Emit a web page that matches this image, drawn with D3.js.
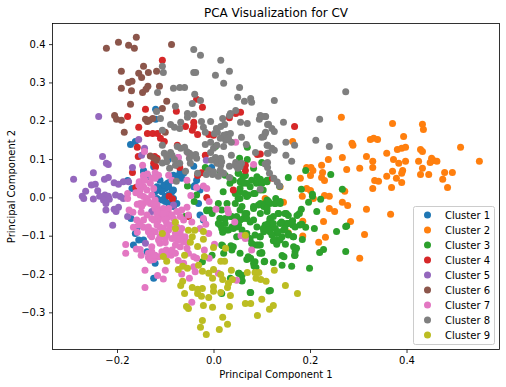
<!DOCTYPE html>
<html>
<head>
<meta charset="utf-8">
<title>PCA Visualization for CV</title>
<script src="https://cdn.jsdelivr.net/npm/d3@7.9.0/dist/d3.min.js"></script>
<style>
  html, body { margin: 0; padding: 0; background: #fff; }
  svg { display: block; font-family: "DejaVu Sans", sans-serif; }
  text { fill: #000; }
</style>
</head>
<body>
<div id="chart"></div>
<script>
// points, one list per cluster: [pc1, pc2]
const cluster1 = [[-0.120,0.230],[-0.120,0.204],[-0.172,0.138],[-0.162,0.146],[-0.145,0.070],[-0.124,0.080],[-0.094,0.099],[-0.041,0.081],[-0.004,0.078],[-0.039,0.031],[-0.062,0.063],[-0.178,0.044],[-0.095,0.037],[-0.104,0.029],[-0.081,0.050],[-0.073,0.057],[-0.100,0.023],[-0.102,0.032],[-0.093,0.038],[-0.083,0.019],[-0.100,0.002],[-0.093,-0.016],[-0.083,-0.024],[-0.028,-0.046],[-0.021,-0.059],[-0.171,-0.055],[-0.162,-0.094],[-0.155,-0.111],[-0.166,-0.124],[-0.138,-0.142],[-0.121,-0.172],[-0.124,-0.211],[-0.028,0.019],[-0.041,0.028],[-0.031,-0.016],[-0.083,0.058],[-0.117,0.028],[-0.145,0.067],[-0.135,0.054],[-0.145,-0.111],[-0.158,-0.078],[-0.111,0.045],[-0.100,-0.011],[-0.069,0.067],[-0.169,0.023],[-0.114,0.019],[-0.107,0.015],[-0.093,0.028],[-0.086,0.015],[-0.121,0.015],[-0.117,-0.003],[-0.107,-0.007],[-0.093,0.006],[-0.083,-0.003],[-0.076,-0.016],[-0.066,0.050],[-0.086,0.045],[-0.035,0.045]];
const cluster2 = [[0.265,0.209],[0.371,0.193],[0.433,0.191],[0.435,0.177],[0.394,0.159],[0.287,0.141],[0.289,0.136],[0.325,0.151],[0.332,0.154],[0.340,0.151],[0.164,0.146],[0.512,0.131],[0.381,0.125],[0.390,0.128],[0.398,0.131],[0.429,0.125],[0.433,0.120],[0.359,0.115],[0.267,0.104],[0.317,0.107],[0.238,0.099],[0.373,0.099],[0.384,0.089],[0.330,0.094],[0.330,0.078],[0.398,0.094],[0.425,0.094],[0.452,0.102],[0.449,0.091],[0.456,0.096],[0.463,0.094],[0.551,0.094],[0.224,0.084],[0.193,0.078],[0.202,0.078],[0.206,0.070],[0.201,0.057],[0.226,0.065],[0.276,0.073],[0.303,0.076],[0.371,0.068],[0.392,0.070],[0.390,0.063],[0.433,0.076],[0.429,0.060],[0.446,0.060],[0.479,0.065],[0.495,0.065],[0.180,0.050],[0.224,0.052],[0.230,0.044],[0.334,0.044],[0.342,0.042],[0.359,0.055],[0.379,0.050],[0.390,0.039],[0.475,0.047],[0.330,0.023],[0.369,0.026],[0.485,0.026],[0.193,0.023],[0.201,0.018],[0.272,0.016],[0.230,0.005],[0.240,0.003],[0.184,0.003],[0.207,-0.003],[0.267,-0.013],[0.278,-0.021],[0.240,-0.029],[0.251,-0.037],[0.317,-0.031],[0.367,-0.044],[0.228,-0.063],[0.284,-0.063],[0.185,-0.062],[0.232,-0.104],[0.313,-0.097],[0.218,-0.117],[0.185,-0.101],[0.303,-0.159],[0.155,-0.092],[0.145,-0.013],[0.107,-0.003],[0.138,0.028]];
const cluster3 = [[-0.054,0.030],[-0.035,0.006],[-0.040,-0.011],[-0.014,-0.035],[-0.003,-0.042],[0.014,-0.055],[0.024,-0.068],[0.014,-0.072],[0.019,-0.091],[0.031,-0.085],[0.041,-0.081],[0.052,-0.072],[0.059,-0.085],[0.048,-0.103],[0.069,-0.094],[0.076,-0.107],[0.083,-0.124],[0.093,-0.124],[0.100,-0.146],[0.073,-0.159],[0.083,-0.172],[0.088,-0.183],[0.105,-0.168],[0.053,-0.198],[0.059,-0.218],[0.077,-0.248],[0.115,-0.244],[0.019,-0.126],[0.036,-0.126],[0.038,-0.137],[0.021,-0.146],[-0.003,-0.151],[-0.023,-0.168],[0.035,-0.211],[0.017,-0.251],[-0.059,-0.050],[0.014,0.067],[0.024,0.058],[0.035,0.050],[0.055,0.041],[0.062,0.054],[0.069,0.037],[0.079,0.045],[0.090,0.054],[0.100,0.037],[0.111,0.045],[0.055,0.023],[0.055,-0.003],[0.069,0.002],[0.083,0.010],[0.097,0.019],[0.055,-0.033],[0.069,-0.042],[0.083,-0.029],[0.097,-0.042],[0.111,-0.037],[0.045,-0.016],[0.059,-0.024],[0.017,-0.033],[0.028,-0.016],[0.048,-0.050],[0.062,-0.055],[0.076,-0.064],[0.090,-0.077],[0.107,-0.072],[0.114,-0.081],[0.035,-0.050],[0.055,-0.059],[0.111,-0.007],[0.117,-0.055],[0.004,0.133],[0.070,0.131],[0.054,0.102],[0.070,0.099],[0.083,0.076],[0.100,0.091],[0.052,0.063],[0.066,0.057],[-0.017,0.078],[0.191,0.070],[0.243,0.060],[0.155,0.052],[0.182,0.021],[0.205,0.008],[0.205,0.003],[0.222,-0.005],[0.267,0.021],[0.197,-0.013],[0.137,0.029],[0.097,0.047],[0.100,0.037],[0.111,0.041],[0.129,-0.003],[0.107,-0.016],[0.117,-0.016],[0.128,-0.016],[0.138,-0.016],[0.097,-0.016],[0.104,-0.024],[0.111,-0.029],[0.182,-0.031],[0.178,-0.042],[0.173,-0.047],[0.214,-0.037],[0.135,-0.042],[0.151,-0.042],[0.155,-0.047],[0.124,-0.050],[0.117,-0.059],[0.114,-0.068],[0.107,-0.077],[0.121,-0.077],[0.128,-0.081],[0.138,-0.068],[0.145,-0.068],[0.155,-0.068],[0.164,-0.061],[0.164,-0.072],[0.183,-0.070],[0.191,-0.078],[0.209,-0.081],[0.255,-0.089],[0.274,-0.076],[0.276,-0.075],[0.104,-0.090],[0.117,-0.090],[0.131,-0.094],[0.145,-0.085],[0.155,-0.094],[0.142,-0.103],[0.135,-0.111],[0.166,-0.103],[0.184,-0.110],[0.124,-0.113],[0.131,-0.122],[0.149,-0.122],[0.166,-0.129],[0.228,-0.136],[0.220,-0.144],[0.274,-0.141],[0.169,-0.142],[0.168,-0.152],[0.142,-0.152],[0.146,-0.155],[0.100,-0.144],[0.106,-0.167],[0.124,-0.170],[0.142,-0.177],[0.162,-0.180],[0.199,-0.185],[0.097,-0.124],[0.097,-0.103],[0.069,-0.162],[0.077,-0.159],[0.086,-0.168],[0.084,-0.179],[0.052,-0.198],[0.059,-0.203],[0.059,-0.217],[0.076,-0.248],[0.118,-0.243],[0.062,0.037],[0.058,0.045],[0.076,0.028],[0.089,0.037],[0.100,0.041],[0.055,0.015],[0.065,0.010],[0.051,-0.003],[0.072,0.006],[0.086,0.010],[0.103,0.019],[0.114,-0.011],[0.127,-0.016],[0.138,-0.011],[0.083,-0.024],[0.093,-0.020],[0.065,-0.042],[0.038,-0.050],[0.024,-0.055],[0.013,-0.055],[0.010,-0.068],[0.017,-0.081],[0.027,-0.085],[0.038,-0.077],[0.048,-0.077],[0.069,-0.055],[0.083,-0.059],[0.124,-0.068],[0.110,-0.072],[0.103,-0.081],[0.114,-0.085],[0.121,-0.098],[0.134,-0.090],[0.127,-0.111],[0.138,-0.111],[0.148,-0.042],[0.134,-0.042],[0.152,-0.068],[0.148,-0.081],[0.162,-0.064],[0.169,-0.077],[0.179,-0.072],[0.141,-0.064],[0.155,-0.098],[0.165,-0.103],[0.172,-0.133],[0.169,-0.151],[0.096,-0.103],[0.086,-0.098],[0.089,-0.124],[0.079,-0.120],[0.096,-0.146],[0.072,-0.155],[0.055,-0.146],[0.041,-0.129],[0.017,-0.124],[-0.007,-0.033],[-0.014,-0.033],[0.010,-0.016],[0.020,0.015],[0.034,0.037],[0.045,0.010],[0.051,0.063],[0.041,0.045]];
const cluster4 = [[-0.106,0.358],[-0.077,0.225],[-0.035,0.256],[-0.023,0.235],[-0.141,0.230],[-0.178,0.211],[-0.155,0.183],[-0.137,0.167],[-0.126,0.167],[-0.116,0.167],[-0.110,0.154],[-0.102,0.146],[-0.158,0.131],[-0.156,0.107],[-0.122,0.107],[-0.117,0.102],[-0.075,0.136],[-0.058,0.185],[-0.041,0.196],[-0.044,0.175],[-0.033,0.164],[-0.010,0.164],[0,0.162],[0.033,0.208],[0.046,0.219],[0.056,0.222],[-0.017,0.110],[-0.075,0.084],[-0.070,0.078],[-0.168,0.065],[-0.025,0.064],[-0.033,0.057],[0.066,0.084],[0.066,0.070],[0.091,0.112],[-0.041,0.185],[-0.120,0.080],[-0.124,0.089],[-0.014,0],[0.041,0.019],[-0.092,0.003],[-0.085,-0.004],[-0.161,0.026],[-0.052,-0.05],[0.168,0.185],[0.122,0.050],[0.097,0.113]];
const cluster5 = [[-0.238,0.211],[-0.155,0.151],[-0.143,0.128],[-0.149,0.110],[-0.230,0.107],[-0.222,0.089],[-0.218,0.086],[-0.168,0.078],[-0.015,0.097],[-0.073,0.104],[-0.249,0.064],[-0.290,0.047],[-0.226,0.047],[-0.218,0.052],[-0.253,0.032],[-0.245,0.034],[-0.206,0.038],[-0.197,0.034],[-0.187,0.041],[-0.176,0.041],[-0.265,0.016],[-0.240,0.017],[-0.272,0.003],[-0.269,-0.003],[-0.249,-0.004],[-0.236,0.003],[-0.225,0.006],[-0.218,0.003],[-0.228,-0.007],[-0.216,-0.005],[-0.223,-0.016],[-0.203,0.006],[-0.193,0.002],[-0.187,-0.003],[-0.206,-0.031],[-0.197,-0.026],[-0.202,-0.037],[-0.223,-0.033],[-0.209,-0.073],[-0.178,-0.050],[-0.141,-0.120],[-0.083,-0.020],[-0.128,-0.037]];
const cluster6 = [[-0.222,0.389],[-0.197,0.405],[-0.176,0.397],[-0.164,0.389],[-0.160,0.418],[-0.087,0.399],[-0.191,0.329],[-0.145,0.342],[-0.155,0.324],[-0.149,0.313],[-0.135,0.326],[-0.118,0.329],[-0.176,0.300],[-0.169,0.303],[-0.191,0.285],[-0.170,0.278],[-0.147,0.274],[-0.140,0.282],[-0.136,0.290],[-0.112,0.290],[-0.172,0.243],[-0.097,0.251],[-0.106,0.232],[-0.205,0.214],[-0.201,0.204],[-0.191,0.201],[-0.185,0.170],[-0.141,0.204],[-0.133,0.201],[-0.126,0.206],[-0.137,0.198],[-0.100,0.170],[-0.131,0.108],[-0.124,0.103],[-0.117,0.097]];
const cluster7 = [[-0.178,0.010],[-0.178,-0.003],[-0.161,0.012],[-0.154,0.041],[-0.145,0.054],[-0.137,0.061],[-0.121,0.064],[-0.114,0.058],[-0.131,0.037],[-0.145,0.028],[-0.138,0.019],[-0.124,0.023],[-0.152,0.019],[-0.128,0.006],[-0.138,-0.003],[-0.145,-0.016],[-0.158,-0.018],[-0.131,-0.016],[-0.121,-0.007],[-0.093,0.058],[-0.086,0.045],[-0.055,0.045],[-0.035,0.026],[-0.021,0.030],[-0.014,0.023],[-0.047,0.005],[-0.009,-0.011],[0.005,-0.031],[0.029,-0.031],[0.031,-0.040],[0.044,-0.064],[-0.175,-0.033],[-0.167,-0.039],[-0.150,-0.039],[-0.159,-0.059],[-0.152,-0.068],[-0.166,-0.078],[-0.158,-0.091],[-0.145,-0.078],[-0.135,-0.077],[-0.128,-0.087],[-0.128,-0.103],[-0.111,-0.033],[-0.100,-0.033],[-0.117,-0.042],[-0.107,-0.050],[-0.093,-0.042],[-0.076,-0.037],[-0.066,-0.033],[-0.055,-0.026],[-0.069,-0.050],[-0.083,-0.055],[-0.114,-0.059],[-0.097,-0.068],[-0.117,-0.072],[-0.104,-0.081],[-0.093,-0.085],[-0.111,-0.103],[-0.100,-0.107],[-0.111,-0.120],[-0.079,-0.094],[-0.069,-0.094],[-0.059,-0.103],[-0.073,-0.111],[-0.079,-0.124],[-0.069,-0.129],[-0.055,-0.133],[-0.052,-0.146],[-0.041,-0.155],[-0.035,-0.159],[-0.062,-0.059],[-0.052,-0.046],[-0.045,-0.064],[-0.016,-0.070],[-0.010,-0.094],[-0.021,-0.055],[0.002,-0.122],[-0.182,-0.123],[-0.182,-0.146],[-0.160,-0.135],[-0.152,-0.136],[-0.150,-0.151],[-0.135,-0.146],[-0.128,-0.142],[-0.135,-0.157],[-0.124,-0.162],[-0.114,-0.155],[-0.107,-0.142],[-0.098,-0.137],[-0.097,-0.151],[-0.088,-0.151],[-0.073,-0.165],[-0.062,-0.172],[-0.041,-0.181],[-0.066,-0.200],[-0.050,-0.211],[-0.038,-0.194],[-0.009,-0.159],[-0.019,-0.137],[0.010,-0.198],[-0.142,-0.190],[-0.116,-0.204],[-0.100,-0.190],[-0.104,-0.213],[-0.142,-0.235],[-0.045,-0.274],[0.048,-0.216],[0.057,-0.100],[0.066,-0.107],[0.079,-0.137],[-0.128,-0.129],[-0.086,-0.107],[-0.117,-0.020],[-0.028,-0.081],[-0.143,0.120],[-0.147,0.084],[0.046,0.144],[0.083,0.086],[-0.052,0.115],[-0.073,0.104],[-0.145,0.058],[-0.121,-0.029],[-0.114,-0.037],[-0.104,-0.029],[-0.093,-0.029],[-0.104,-0.042],[-0.117,-0.055],[-0.124,-0.059],[-0.097,-0.055],[-0.086,-0.046],[-0.100,-0.059],[-0.090,-0.072],[-0.111,-0.077],[-0.121,-0.090],[-0.097,-0.098],[-0.107,-0.090],[-0.114,-0.111],[-0.100,-0.118],[-0.079,-0.107],[-0.069,-0.107],[-0.062,-0.116],[-0.055,-0.116],[-0.076,-0.077],[-0.066,-0.081],[-0.155,0.032],[-0.149,0.041],[-0.142,0.045],[-0.128,0.050],[-0.121,0.050],[-0.152,0.006],[-0.145,0.002],[-0.135,-0.011],[-0.124,-0.020],[-0.149,-0.024],[-0.152,-0.016],[-0.138,-0.046],[-0.128,-0.055],[-0.145,-0.059],[-0.155,-0.072],[-0.135,-0.090],[-0.131,-0.098],[-0.121,-0.151],[-0.131,-0.164],[-0.124,-0.151],[-0.104,-0.146],[-0.093,-0.144],[-0.079,-0.146],[-0.086,-0.137]];
const cluster8 = [[-0.041,0.386],[-0.027,0.371],[0.015,0.358],[0.004,0.319],[0.033,0.329],[0.021,0.298],[-0.041,0.326],[-0.037,0.326],[-0.106,0.342],[-0.104,0.326],[-0.116,0.274],[-0.083,0.285],[-0.070,0.287],[-0.060,0.287],[-0.039,0.269],[-0.027,0.253],[-0.044,0.245],[0.050,0.261],[0.054,0.287],[0.064,0.251],[0.077,0.258],[0.079,0.248],[-0.079,0.238],[-0.054,0.219],[-0.041,0.217],[-0.054,0.209],[-0.118,0.224],[-0.110,0.206],[-0.089,0.190],[-0.081,0.183],[-0.068,0.196],[-0.070,0.180],[-0.025,0.198],[-0.021,0.183],[-0.017,0.170],[-0.006,0.198],[0.019,0.206],[0.035,0.219],[0.046,0.227],[0.033,0.214],[0.056,0.196],[0.070,0.193],[0.095,0.204],[0.097,0.214],[0.108,0.211],[0.112,0.190],[0.104,0.158],[0.108,0.170],[0.112,0.136],[0.006,0.180],[0.015,0.185],[0.023,0.190],[0.002,0.167],[0.008,0.170],[-0.006,0.144],[-0.017,0.138],[0.027,0.164],[0.035,0.167],[0.025,0.149],[0.037,0.144],[0.021,0.133],[0.058,0.157],[0.068,0.138],[0.087,0.117],[0.112,0.115],[-0.106,0.175],[-0.106,0.136],[-0.075,0.133],[-0.068,0.128],[-0.060,0.131],[-0.102,0.115],[-0.089,0.117],[-0.081,0.099],[-0.106,0.090],[-0.091,0.076],[-0.079,0.084],[-0.070,0.089],[-0.050,0.115],[-0.037,0.112],[-0.048,0.089],[-0.035,0.102],[-0.050,0.102],[-0.006,0.117],[0.004,0.104],[0.015,0.102],[0.015,0.084],[-0.004,0.097],[0.037,0.110],[0.033,0.081],[0.046,0.091],[0.050,0.076],[0.058,0.089],[0.048,0.084],[0.112,0.091],[-0.033,0.063],[-0.015,0.060],[-0.002,0.060],[0.010,0.055],[0.021,0.063],[0.033,0.052],[-0.058,0.068],[-0.077,0.042],[0,0.128],[0.274,0.276],[0.126,0.253],[0.100,0.211],[0.107,0.211],[0.145,0.196],[0.220,0.204],[0.114,0.191],[0.121,0.180],[0.126,0.172],[0.107,0.167],[0.100,0.157],[0.212,0.149],[0.150,0.144],[0.168,0.136],[0.240,0.133],[0.111,0.136],[0.121,0.128],[0.126,0.123],[0.113,0.115],[0.150,0.110],[0.162,0.094],[0.107,0.087],[0.112,0.078],[0.116,0.063],[0.125,0.050],[0.132,0.040],[0.137,0.030],[0.097,0.021],[-0.097,0.106],[-0.055,0.119],[-0.044,0.110],[0.007,0.089],[0.017,0.093],[-0.010,0.071],[0,0.067],[0.014,0.071],[0.021,0.162],[0.031,0.154],[0.014,0.154],[0.007,0.136],[0.045,0.084],[0.055,0.080],[-0.086,0.110],[-0.097,0.093]];
const cluster9 = [[-0.079,-0.065],[-0.079,-0.081],[-0.106,-0.094],[-0.052,-0.086],[-0.039,-0.086],[-0.021,-0.089],[-0.044,-0.103],[-0.048,-0.117],[-0.021,-0.109],[-0.033,-0.128],[0,-0.131],[0.025,-0.133],[-0.104,-0.154],[-0.097,-0.167],[-0.060,-0.151],[-0.019,-0.154],[0.015,-0.167],[0.023,-0.167],[-0.031,-0.177],[-0.073,-0.188],[-0.064,-0.180],[-0.054,-0.185],[-0.023,-0.193],[0,-0.188],[-0.010,-0.198],[-0.002,-0.211],[0.015,-0.201],[0.019,-0.214],[0.037,-0.190],[0.039,-0.214],[0.031,-0.224],[0.029,-0.235],[-0.064,-0.219],[-0.068,-0.230],[-0.060,-0.251],[-0.044,-0.235],[-0.033,-0.240],[-0.023,-0.238],[-0.033,-0.251],[-0.025,-0.258],[0,-0.233],[0,-0.245],[0.015,-0.248],[-0.010,-0.261],[0.035,-0.256],[-0.021,-0.282],[-0.002,-0.287],[0.033,-0.285],[-0.056,-0.285],[-0.052,-0.290],[0.066,-0.277],[0.077,-0.277],[0.091,-0.308],[0.100,-0.266],[0.019,-0.313],[-0.023,-0.321],[-0.027,-0.339],[0.029,-0.331],[0.012,-0.345],[-0.015,-0.358],[0.066,-0.099],[0.086,-0.196],[0.094,-0.196],[0.088,-0.211],[0.098,-0.214],[0.109,-0.219],[0.070,-0.196],[0.116,-0.292],[0.126,-0.190],[0.149,-0.230],[0.174,-0.251],[0.124,-0.282]];

const clusters = [cluster1, cluster2, cluster3, cluster4, cluster5, cluster6, cluster7, cluster8, cluster9];
const clusterNames = clusters.map((_, i) => `Cluster ${i + 1}`);
const colors = ['#1f77b4', '#ff7f0e', '#2ca02c', '#d62728', '#9467bd', '#8c564b', '#e377c2', '#7f7f7f', '#bcbd22'];

const xTicks = [-0.2, 0, 0.2, 0.4];
const yTicks = [-0.3, -0.2, -0.1, 0, 0.1, 0.2, 0.3, 0.4];

const width = 506;
const height = 387;
const margin = { top: 23.5, right: 6.5, bottom: 37.5, left: 52.5 };

const svg = d3.select('#chart').append('svg')
  .attr('width', width)
  .attr('height', height);

const xScale = d3.scaleLinear()
  .domain([-0.3337, 0.5927])
  .range([margin.left, width - margin.right]);

const yScale = d3.scaleLinear()
  .domain([-0.397, 0.4538])
  .range([height - margin.bottom, margin.top]);

const dots = svg.append('g').attr('class', 'dots');
clusters.forEach((points, i) => {
  dots.append('g')
    .selectAll('circle')
    .data(points)
    .join('circle')
    .attr('cx', d => xScale(d[0]))
    .attr('cy', d => yScale(d[1]))
    .attr('r', 3.5)
    .attr('fill', colors[i]);
});

const xAxis = d3.axisBottom(xScale).tickValues(xTicks).tickFormat(d3.format('.1f')).tickSize(3.5).tickPadding(3.5);
const yAxis = d3.axisLeft(yScale).tickValues(yTicks).tickFormat(d3.format('.1f')).tickSize(3.5).tickPadding(3.5);

svg.append('g')
  .attr('transform', `translate(0, ${height - margin.bottom})`)
  .call(xAxis);
svg.append('g')
  .attr('transform', `translate(${margin.left}, 0)`)
  .call(yAxis);

svg.selectAll('.domain').remove();
svg.selectAll('.tick line').attr('stroke', '#000').attr('stroke-width', 0.8);
svg.selectAll('.tick text').attr('font-size', 10).attr('font-family', '"DejaVu Sans", sans-serif');

svg.append('rect')
  .attr('x', margin.left)
  .attr('y', margin.top)
  .attr('width', width - margin.left - margin.right)
  .attr('height', height - margin.top - margin.bottom)
  .attr('fill', 'none')
  .attr('stroke', '#000')
  .attr('stroke-width', 0.8);

svg.append('text')
  .attr('x', (margin.left + width - margin.right) / 2)
  .attr('y', 17)
  .attr('text-anchor', 'middle')
  .attr('font-size', 12)
  .text('PCA Visualization for CV');

svg.append('text')
  .attr('x', (margin.left + width - margin.right) / 2)
  .attr('y', 377.5)
  .attr('text-anchor', 'middle')
  .attr('font-size', 10)
  .text('Principal Component 1');

svg.append('text')
  .attr('transform', `translate(14.5, ${(margin.top + height - margin.bottom) / 2}) rotate(-90)`)
  .attr('text-anchor', 'middle')
  .attr('font-size', 10)
  .text('Principal Component 2');

const legend = svg.append('g').attr('transform', 'translate(413.5, 206.5)');
legend.append('rect')
  .attr('width', 81)
  .attr('height', 138)
  .attr('rx', 2)
  .attr('fill', '#fff')
  .attr('fill-opacity', 0.8)
  .attr('stroke', '#ccc')
  .attr('stroke-width', 1);

const rows = legend.selectAll('g.row')
  .data(clusterNames)
  .join('g')
  .attr('class', 'row')
  .attr('transform', (d, i) => `translate(0, ${8.5 + i * 15})`);
rows.append('circle')
  .attr('cx', 14)
  .attr('r', 3.5)
  .attr('fill', (d, i) => colors[i]);
rows.append('text')
  .attr('x', 31.5)
  .attr('y', 3.5)
  .attr('font-size', 10)
  .text(d => d);
</script>
</body>
</html>
